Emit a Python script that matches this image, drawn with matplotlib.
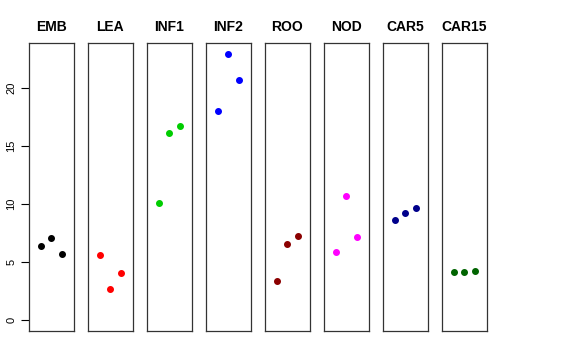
import matplotlib
matplotlib.use('Agg')
import matplotlib.pyplot as plt

plt.rcParams['font.family'] = ['Liberation Sans', 'DejaVu Sans']

tissues = ['EMB', 'LEA', 'INF1', 'INF2', 'ROO', 'NOD', 'CAR5', 'CAR15']
colors = ['black', 'red', '#00CD00', 'blue', '#8B0000', 'magenta', '#00008B', '#006400']
reps = [1, 2, 3]
values = [
    [6.39, 7.05, 5.70],
    [5.65, 2.67, 4.07],
    [10.12, 16.08, 16.68],
    [18.0, 22.9, 20.7],
    [3.38, 6.59, 7.25],
    [5.87, 10.72, 7.14],
    [8.66, 9.20, 9.63],
    [4.18, 4.18, 4.27],
]
yticks = [0, 5, 10, 15, 20]

fig = plt.figure(figsize=(5.76, 3.6), dpi=100)
ymax = max(max(v) for v in values)
ypad = 0.04 * ymax

for i, name in enumerate(tissues):
    ax = fig.add_axes([(29 + 59 * i) / 576, 29 / 360, 44.7 / 576, 287.7 / 360])
    ax.plot(reps, values[i], 'o', color=colors[i], markersize=4)
    ax.set_xlim(-0.16, 4.16)
    ax.set_ylim(-ypad, ymax + ypad)
    ax.set_xticks([])
    ax.set_title(name, fontsize=10, fontweight='bold', pad=9)
    for s in ax.spines.values():
        s.set_linewidth(0.9)
        s.set_color('#333333')
    if i == 0:
        ax.set_yticks(yticks)
        ax.set_yticklabels([str(t) for t in yticks], rotation=90, va='center', fontsize=8)
        ax.tick_params(axis='y', length=6, width=0.8, pad=3)
    else:
        ax.set_yticks([])

fig.savefig('out.png', dpi=100)
